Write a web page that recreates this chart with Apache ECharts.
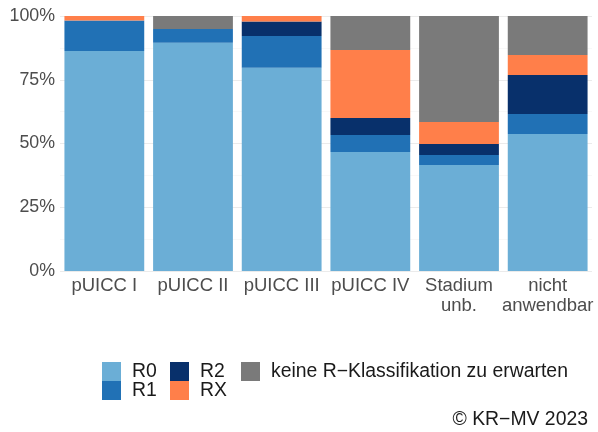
<!DOCTYPE html>
<html><head><meta charset="utf-8">
<script src="https://cdn.jsdelivr.net/npm/echarts@6/dist/echarts.min.js"></script>
<style>html,body{margin:0;padding:0;background:#fff}#c{width:598px;height:432px}</style>
</head><body><div id="c"></div>
<script>
const categories = ['pUICC I', 'pUICC II', 'pUICC III', 'pUICC IV', 'Stadium\nunb.', 'nicht\nanwendbar'];
const seriesNames = ['R0', 'R1', 'R2', 'RX', 'keine R\u2212Klassifikation zu erwarten'];
const r0 = [86.3, 89.5, 79.7, 46.7, 41.6, 53.7];
const r1 = [11.9, 5.4, 12.5, 6.6, 3.9, 7.9];
const r2 = [0, 0, 5.6, 6.7, 4.3, 15.3];
const rx = [1.8, 0, 2.2, 26.7, 8.6, 7.8];
const keine = [0, 5.1, 0, 13.3, 41.6, 15.3];
const yTicks = ['0%', '25%', '50%', '75%', '100%'];
const colors = ['#6BAED6', '#2171B5', '#08306B', '#FF7F4A', '#7A7A7A'];
const values = [r0, r1, r2, rx, keine];

const FONT = 'Liberation Sans';
const chart = echarts.init(document.getElementById('c'), null, {renderer: 'canvas'});
const legendCommon = {
  orient: 'vertical', itemWidth: 19, itemHeight: 19, itemGap: 0, icon: 'rect',
  textStyle: {fontFamily: FONT, fontSize: 19.4, color: '#1a1a1a', padding: [0,0,0,6]},
  padding: 0, selectedMode: false
};
chart.setOption({
  animation: false,
  color: colors,
  grid: {left: 60, right: 6, top: 16, bottom: 161},
  legend: [
    Object.assign({}, legendCommon, {data: [seriesNames[0], seriesNames[1]], left: 102, top: 362}),
    Object.assign({}, legendCommon, {data: [seriesNames[2], seriesNames[3]], left: 170, top: 362}),
    Object.assign({}, legendCommon, {data: [seriesNames[4]], left: 241, top: 362})
  ],
  graphic: [{
    type: 'text', x: 588, y: 420,
    style: {text: '\u00A9 KR\u2212MV 2023', fontFamily: FONT, fontSize: 19.4, fill: '#1a1a1a',
      textAlign: 'right', textVerticalAlign: 'middle'}
  }],
  xAxis: {
    type: 'category', data: categories,
    axisLine: {show: false}, axisTick: {show: false},
    axisLabel: {fontFamily: FONT, fontSize: 18.5, color: '#4D4D4D', margin: 5, interval: 0, lineHeight: 20},
    splitLine: {show: false}
  },
  yAxis: {
    type: 'value', min: 0, max: 100, interval: 25,
    axisLine: {show: false}, axisTick: {show: false},
    axisLabel: {fontFamily: FONT, fontSize: 17.8, color: '#4D4D4D', margin: 5,
      formatter: (v) => yTicks[Math.round(v / 25)]},
    splitLine: {show: true, lineStyle: {color: '#EBEBEB', width: 1.1}},
    minorTick: {show: false, splitNumber: 2},
    minorSplitLine: {show: true, lineStyle: {color: '#F3F3F3', width: 0.6}}
  },
  series: values.map((d, i) => ({
    name: seriesNames[i], type: 'bar', stack: 'total', data: d,
    barCategoryGap: '10%', itemStyle: {color: colors[i]}
  }))
});
</script></body></html>
